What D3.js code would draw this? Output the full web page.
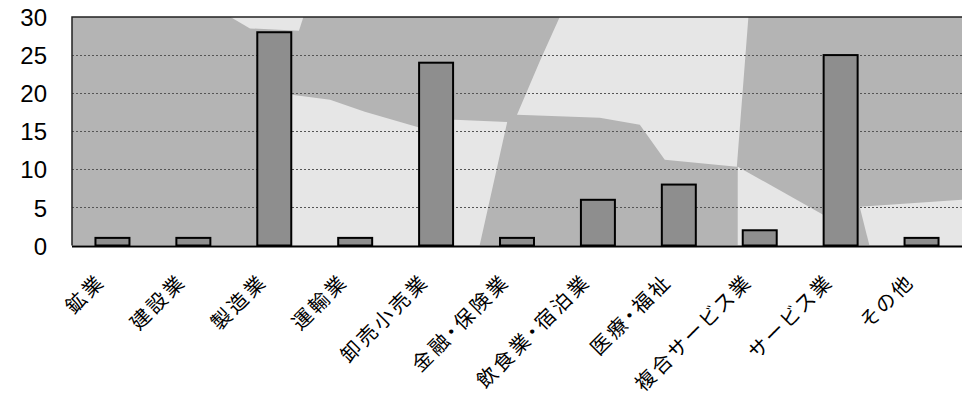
<!DOCTYPE html>
<html>
<head>
<meta charset="utf-8">
<script src="https://cdn.jsdelivr.net/npm/d3@7"></script>
<style>
  html, body { margin: 0; padding: 0; background: #fff; }
  svg { display: block; }
</style>
</head>
<body>
<svg id="chart" width="963" height="401"></svg>
<script>
// Industry categories and counts
const categories = ["鉱業", "建設業", "製造業", "運輸業", "卸売小売業", "金融・保険業",
  "飲食業・宿泊業", "医療・福祉", "複合サービス業", "サービス業", "その他"];
const values = [1, 1, 28, 1, 24, 1, 6, 8, 2, 25, 1];
const yTicks = [0, 5, 10, 15, 20, 25, 30];

const W = 963, H = 401;
const m = { left: 72, right: 1, top: 17, bottom: 155 };
const svg = d3.select("#chart");

const x = d3.scaleBand().domain(categories).range([m.left, W - m.right]).paddingInner(0.58).paddingOuter(0.29);
const band = d3.scaleBand().domain(categories).range([m.left, W - m.right]);
const y = d3.scaleLinear().domain([0, 30]).range([H - m.bottom - 0.5, m.top]);

const pw = W - m.right - m.left, ph = y(0) - y(30);

// Plot background: grey with lighter washes (fractions of the plot area)
svg.append("rect").attr("x", m.left).attr("y", y(30)).attr("width", pw).attr("height", ph).attr("fill", "#b4b4b4");
const light = [
  [[0.178, 0.0], [0.26, 0.0], [0.255, 0.06], [0.20, 0.05]],
  [[0.247, 0.34], [0.29, 0.362], [0.329, 0.415], [0.391, 0.485], [0.43, 0.45], [0.489, 0.459], [0.458, 1.0], [0.247, 1.0]],
  [[0.548, 0.0], [0.76, 0.0], [0.747, 0.655], [0.666, 0.625], [0.638, 0.472], [0.593, 0.441], [0.50, 0.428], [0.526, 0.19]],
  [[0.748, 0.655], [0.844, 0.865], [0.848, 1.0], [0.748, 1.0]],
  [[0.885, 0.83], [1.0, 0.80], [1.0, 1.0], [0.896, 1.0]]
];
svg.append("g").selectAll("path").data(light).join("path")
  .attr("d", p => d3.line()(p.map(([fx, fy]) => [m.left + fx * pw, y(30) + fy * ph])) + "Z")
  .attr("fill", "#e6e6e6");

// Grid lines
svg.append("g").selectAll("line").data(yTicks.filter(t => t > 0 && t < 30)).join("line")
  .attr("x1", m.left).attr("x2", W - m.right)
  .attr("y1", d => Math.round(y(d)) + 0.5).attr("y2", d => Math.round(y(d)) + 0.5)
  .attr("stroke", "#555").attr("stroke-width", 1).attr("stroke-dasharray", "2,2");

// Bars
svg.append("g").selectAll("rect").data(values).join("rect")
  .attr("x", (d, i) => x(categories[i]))
  .attr("y", d => y(d))
  .attr("width", x.bandwidth())
  .attr("height", d => y(0) - y(d))
  .attr("fill", "#8e8e8e")
  .attr("stroke", "#000").attr("stroke-width", 2);

// Frame
svg.append("path")
  .attr("d", `M${m.left},${y(0)}V${y(30)}H${W - m.right}`)
  .attr("fill", "none").attr("stroke", "#222").attr("stroke-width", 1.5);
svg.append("line").attr("x1", m.left).attr("x2", W - m.right)
  .attr("y1", y(0) + 1).attr("y2", y(0) + 1).attr("stroke", "#000").attr("stroke-width", 2);

// Y axis labels
const yAxis = d3.axisLeft(y).tickValues(yTicks).tickSize(0).tickPadding(25);
const gy = svg.append("g").attr("transform", `translate(${m.left},0)`).call(yAxis);
gy.select(".domain").remove();
gy.selectAll("text").attr("font-family", "'Liberation Sans', Arial, sans-serif")
  .attr("font-size", 24).attr("fill", "#000").attr("dy", "0.36em");

// X axis labels, rotated -45°
const xAxis = d3.axisBottom(band).tickSize(0).tickPadding(0);
const gx = svg.append("g").attr("transform", `translate(0,${y(0) + 39})`).call(xAxis);
gx.select(".domain").remove();
gx.selectAll("text")
  .attr("font-family", "'Noto Sans CJK JP', sans-serif")
  .attr("font-size", 20).attr("fill", "#000")
  .style("letter-spacing", "3px")
  .style("font-feature-settings", "'palt'")
  .attr("text-anchor", "end")
  .attr("dy", 0).attr("y", 0).attr("x", 3)
  .attr("transform", "translate(-8,0) rotate(-45)");
</script>
</body>
</html>
